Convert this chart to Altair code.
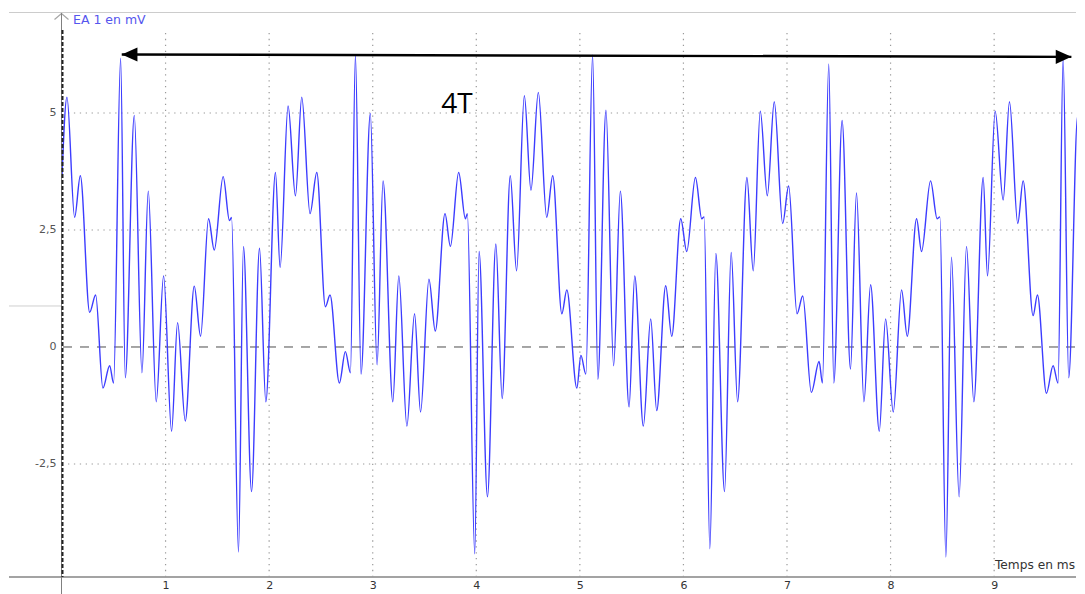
import altair as alt
import pandas as pd

# ---- data (local extrema of the trace) ----
t_ms = [
    0.000, 0.048, 0.122, 0.177, 0.267, 0.325, 0.395, 0.460, 0.498, 0.566,
    0.611, 0.698, 0.772, 0.833, 0.910, 0.981, 1.058, 1.116, 1.190, 1.277,
    1.338, 1.415, 1.470, 1.556, 1.617, 1.637, 1.704, 1.752, 1.830, 1.907,
    1.968, 2.061, 2.106, 2.183, 2.254, 2.315, 2.395, 2.460, 2.543, 2.588,
    2.678, 2.736, 2.785, 2.833, 2.887, 2.977, 3.042, 3.100, 3.194, 3.252,
    3.330, 3.404, 3.462, 3.543, 3.604, 3.698, 3.750, 3.830, 3.895, 3.914,
    3.985, 4.027, 4.108, 4.189, 4.250, 4.328, 4.389, 4.464, 4.528, 4.599,
    4.680, 4.738, 4.826, 4.874, 4.971, 5.010, 5.058, 5.123, 5.174, 5.252,
    5.326, 5.391, 5.475, 5.530, 5.613, 5.684, 5.742, 5.829, 5.887, 5.974,
    6.032, 6.116, 6.177, 6.200, 6.255, 6.313, 6.397, 6.461, 6.523, 6.613,
    6.674, 6.742, 6.810, 6.877, 6.958, 7.016, 7.097, 7.152, 7.235, 7.310,
    7.342, 7.403, 7.452, 7.532, 7.613, 7.671, 7.743, 7.807, 7.891, 7.952,
    8.026, 8.106, 8.161, 8.251, 8.299, 8.386, 8.450, 8.476, 8.534, 8.588,
    8.662, 8.733, 8.804, 8.894, 8.936, 9.010, 9.087, 9.148, 9.228, 9.280,
    9.376, 9.418, 9.505, 9.569, 9.617, 9.666, 9.720, 9.807, 9.857,
]
ea_mv = [
    3.66, 5.34, 2.77, 3.66, 0.74, 1.11, -0.88, -0.40, -0.77, 6.17,
    -0.66, 4.95, -0.55, 3.33, -1.17, 1.52, -1.80, 0.52, -1.58, 1.30,
    0.23, 2.74, 2.07, 3.64, 2.70, 2.77, -4.38, 2.15, -3.09, 2.11,
    -1.17, 3.73, 1.70, 5.15, 3.23, 5.34, 2.85, 3.73, 0.86, 1.11,
    -0.77, -0.10, -0.55, 6.24, -0.58, 4.99, -0.38, 3.55, -1.17, 1.52,
    -1.69, 0.71, -1.39, 1.45, 0.34, 2.85, 2.15, 3.73, 2.74, 2.85,
    -4.42, 2.04, -3.20, 2.20, -1.10, 3.66, 1.63, 5.37, 3.35, 5.44,
    2.77, 3.66, 0.71, 1.22, -0.88, -0.18, -0.58, 6.24, -0.69, 5.06,
    -0.40, 3.33, -1.28, 1.52, -1.69, 0.60, -1.36, 1.31, 0.23, 2.74,
    2.04, 3.62, 2.74, 2.78, -4.31, 2.00, -3.09, 2.02, -1.17, 3.62,
    1.63, 5.04, 3.23, 5.24, 2.64, 3.44, 0.71, 1.09, -0.97, -0.31,
    -0.77, 6.05, -0.77, 4.84, -0.47, 3.29, -1.17, 1.33, -1.80, 0.60,
    -1.39, 1.22, 0.23, 2.74, 2.04, 3.55, 2.74, 2.78, -4.49, 1.92,
    -3.20, 2.15, -1.17, 3.62, 1.52, 5.04, 3.14, 5.24, 2.64, 3.55,
    0.67, 1.11, -0.99, -0.40, -0.77, 6.17, -0.66, 4.95, -0.51,
]

x_ticks = [1, 2, 3, 4, 5, 6, 7, 8, 9]
y_ticks = [-2.5, 2.5, 5]

x_domain = [0, 9.80]
y_domain = [-4.915, 7.158]

arrow_t = [0.577, 9.746]
arrow_v = [6.25, 6.20]
label_4t = {"t": 3.813, "v": 5.0, "text": "4T"}

y_title = "EA 1 en mV"
x_title = "Temps en ms"

W, H = 1015, 565
FONT = "DejaVu Sans"

trace_df = pd.DataFrame({"t": t_ms, "v": ea_mv})
xs = alt.Scale(domain=x_domain, nice=False, zero=False)
ys = alt.Scale(domain=y_domain, nice=False, zero=False)

base = alt.Chart(trace_df).mark_line(
    color="#3c3cff", strokeWidth=1.4, interpolate="monotone", clip=True
).encode(
    x=alt.X("t:Q", scale=xs, axis=alt.Axis(
        values=x_ticks, title=None, grid=False, domain=False, ticks=False,
        labelFont=FONT, labelFontSize=11, labelColor="#333333", labelPadding=2,
        format="d")),
    y=alt.Y("v:Q", scale=ys, axis=alt.Axis(
        values=[-2.5, 0, 2.5, 5], title=None, grid=False, domain=False, ticks=False,
        labelFont=FONT, labelFontSize=11, labelColor="#555555", labelPadding=6,
        labelExpr="datum.value == 2.5 ? '2,5' : datum.value == -2.5 ? '-2,5' : datum.label")),
)

vgrid = alt.Chart(pd.DataFrame({"t": x_ticks})).mark_rule(
    color="#9a9a9a", strokeWidth=1.2, strokeDash=[1.3, 4.6]
).encode(
    x=alt.X("t:Q", scale=xs),
    y=alt.datum(6.71, scale=ys), y2=alt.datum(-4.9),
)
hgrid = alt.Chart(pd.DataFrame({"v": y_ticks})).mark_rule(
    color="#9a9a9a", strokeWidth=1.2, strokeDash=[1.3, 4.6]
).encode(
    y=alt.Y("v:Q", scale=ys),
    x=alt.value(6), x2=alt.value(W - 1),
)
zero = alt.Chart(pd.DataFrame({"v": [0]})).mark_rule(
    color="#4d4d4d", strokeWidth=1, strokeDash=[9, 8]
).encode(
    y=alt.Y("v:Q", scale=ys), x=alt.value(1), x2=alt.value(W - 1),
)
top_line = alt.Chart(pd.DataFrame({"a": [0]})).mark_rule(
    color="#cccccc", strokeWidth=1
).encode(y=alt.value(0.5), x=alt.value(-53), x2=alt.value(W - 1))
bottom_line = alt.Chart(pd.DataFrame({"a": [0]})).mark_rule(
    color="#858585", strokeWidth=1.6
).encode(y=alt.value(H), x=alt.value(-53), x2=alt.value(W - 1))
side_line = alt.Chart(pd.DataFrame({"v": [0.876]})).mark_rule(
    color="#cfcfcf", strokeWidth=1
).encode(y=alt.Y("v:Q", scale=ys), x=alt.value(-53), x2=alt.value(0))
yaxis_solid = alt.Chart(pd.DataFrame({"a": [0]})).mark_rule(
    color="#808080", strokeWidth=1
).encode(x=alt.value(-0.5), y=alt.value(1), y2=alt.value(583))
yaxis_dash = alt.Chart(pd.DataFrame({"a": [0]})).mark_rule(
    color="#222222", strokeWidth=2, strokeDash=[4, 2]
).encode(x=alt.value(0.5), y=alt.value(18), y2=alt.value(H))
chevron = alt.Chart(pd.DataFrame({"a": [0]})).mark_point(
    shape="M-1,0.85L0,0L1,0.85", filled=False, stroke="#808080", strokeWidth=1.2, size=196
).encode(x=alt.value(-0.5), y=alt.value(1.5))

arrow_df = pd.DataFrame({"t": arrow_t, "v": arrow_v})
arrow_line = alt.Chart(arrow_df).mark_line(color="#000000", strokeWidth=2.4).encode(
    x=alt.X("t:Q", scale=xs), y=alt.Y("v:Q", scale=ys))
head_l = alt.Chart(arrow_df.iloc[[0]]).mark_point(
    shape="M0,0L2,-0.9L2,0.9Z", filled=True, color="#000000", opacity=1, size=246
).encode(x=alt.X("t:Q", scale=xs), y=alt.Y("v:Q", scale=ys))
head_r = alt.Chart(arrow_df.iloc[[1]]).mark_point(
    shape="M0,0L-2,-0.9L-2,0.9Z", filled=True, color="#000000", opacity=1, size=246
).encode(x=alt.X("t:Q", scale=xs), y=alt.Y("v:Q", scale=ys))

t4 = alt.Chart(pd.DataFrame([label_4t])).mark_text(
    font="Open Sans", fontSize=28, color="#000000", align="center", baseline="alphabetic"
).encode(x=alt.X("t:Q", scale=xs), y=alt.Y("v:Q", scale=ys), text="text:N")

ytitle = alt.Chart(pd.DataFrame({"s": [y_title]})).mark_text(
    font=FONT, fontSize=12.5, color="#5555ee", align="left", baseline="middle"
).encode(x=alt.value(11), y=alt.value(8), text="s:N")
xtitle = alt.Chart(pd.DataFrame({"s": [x_title]})).mark_text(
    font=FONT, fontSize=12.2, color="#333333", align="right", baseline="middle"
).encode(x=alt.value(1013), y=alt.value(553), text="s:N")

chart = alt.layer(
    vgrid, hgrid, zero, top_line, side_line, base, bottom_line,
    yaxis_solid, yaxis_dash, chevron, arrow_line, head_l, head_r, t4, ytitle, xtitle,
).properties(
    width=W, height=H,
    padding={"left": 0, "top": 3, "right": 0, "bottom": 0},
).configure_view(stroke=None)

chart.save("out.html", embed_options={"renderer": "svg", "actions": False})
